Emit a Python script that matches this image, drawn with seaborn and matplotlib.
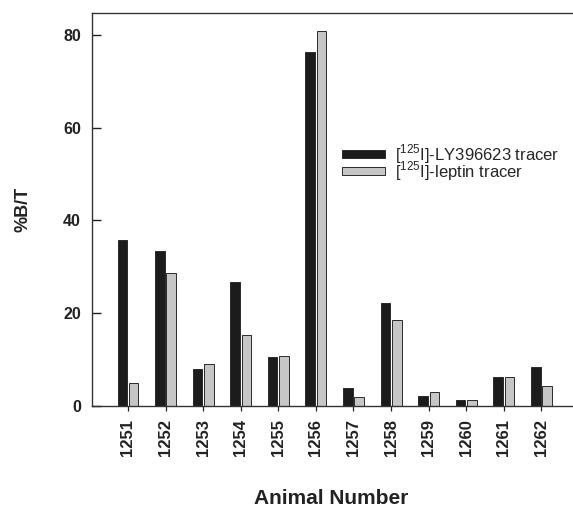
import matplotlib
matplotlib.use("Agg")
import matplotlib.pyplot as plt
import seaborn as sns
import pandas as pd

# %B/T per animal for the two tracers
animals = ["1251", "1252", "1253", "1254", "1255", "1256",
           "1257", "1258", "1259", "1260", "1261", "1262"]
ly_values = [35.8, 33.5, 8.0, 26.8, 10.5, 76.4, 3.8, 22.3, 2.2, 1.4, 6.3, 8.5]
leptin_values = [5.0, 28.7, 9.0, 15.4, 10.7, 80.8, 2.0, 18.5, 3.0, 1.4, 6.3, 4.4]
series_names = [r"$[^{125}$I]-LY396623 tracer", r"$[^{125}$I]-leptin tracer"]
y_ticks = [0, 20, 40, 60, 80]

df = pd.DataFrame({
    "animal": animals * 2,
    "value": ly_values + leptin_values,
    "tracer": [series_names[0]] * len(animals) + [series_names[1]] * len(animals),
})

sns.set_style("white")
plt.rcParams["font.family"] = ["Liberation Sans", "DejaVu Sans"]
plt.rcParams["mathtext.fontset"] = "custom"
plt.rcParams["mathtext.rm"] = "Liberation Sans"

fig = plt.figure(figsize=(5.73, 5.08), dpi=100)
ax = fig.add_axes([92 / 573, 1 - 406 / 508, 481 / 573, 393 / 508])

sns.barplot(data=df, x="animal", y="value", hue="tracer", order=animals,
            hue_order=series_names,
            palette=["#1c1c1c", "#c6c6c6"], width=0.6, gap=0.15,
            edgecolor="#2a2a2a", linewidth=0.7, saturation=1,
            errorbar=None, ax=ax)

ax.set_xlim(-0.957, 11.84)
ax.set_ylim(0, 84.7)
ax.set_yticks(y_ticks)
ax.set_yticklabels([str(t) for t in y_ticks], fontsize=11.5, fontweight="bold", color="#222")
ax.set_xticks(range(len(animals)))
ax.set_xticklabels(animals, rotation=90, fontsize=12, fontweight="bold", color="#222")
ax.tick_params(axis="y", left=True, direction="in", length=6.5, width=1.0, pad=8, color="#222")
ax.tick_params(axis="x", bottom=True, direction="out", length=3.6, width=0.9, pad=6, color="#222")

for side in ["left", "bottom", "top"]:
    ax.spines[side].set_visible(True)
    ax.spines[side].set_color("#333")
    ax.spines[side].set_linewidth(1.0)
ax.spines["right"].set_visible(False)

ax.set_ylabel("%B/T", fontsize=13, fontweight="bold", color="#222")
ax.set_xlabel("Animal Number", fontsize=15, fontweight="bold", color="#222")
ax.yaxis.set_label_coords(-0.126, 0.5)
ax.xaxis.set_label_coords(0.497, -0.211)

leg = ax.legend(loc="center left", bbox_to_anchor=(0.52, 0.62), frameon=False,
                fontsize=12, handlelength=2.6, handleheight=0.4,
                handletextpad=0.55, labelspacing=-0.38, borderpad=0, borderaxespad=0)

fig.savefig("out.png", dpi=100)
